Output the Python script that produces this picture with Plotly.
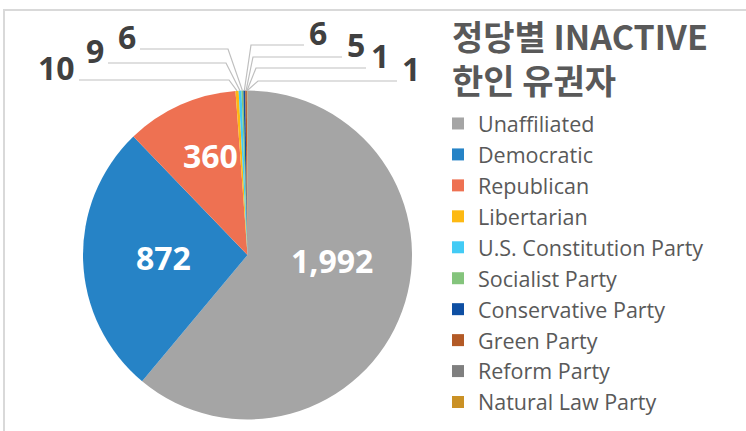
import math
import plotly.graph_objects as go

# ---- data ----
parties = ["Unaffiliated", "Democratic", "Republican", "Libertarian",
           "U.S. Constitution Party", "Socialist Party", "Conservative Party",
           "Green Party", "Reform Party", "Natural Law Party"]
voters = [1992, 872, 360, 10, 9, 6, 6, 5, 1, 1]
colors = ["#A5A5A5", "#2683C6", "#EE7152", "#FDB913", "#43CBF5",
          "#84C47C", "#0E4FA3", "#B35A26", "#7F7F7F", "#CA9125"]
title_lines = ["정당별 INACTIVE", "한인 유권자"]

W, H = 746, 431
CX, CY, R = 247.5, 255.0, 164.5   # pie centre / radius in px (layout)

def px(x):
    return x / W

def py(y):
    return 1 - y / H

fig = go.Figure(go.Pie(
    labels=parties, values=voters, sort=False, direction="clockwise",
    rotation=0, marker=dict(colors=colors, line=dict(width=0)),
    textinfo="none", hoverinfo="label+value",
    domain=dict(x=[px(CX - R), px(CX + R)], y=[py(CY + R), py(CY - R)]),
))

total = sum(voters)
cum = 0
mids = []
for v in voters:
    mids.append((cum + v / 2) / total * 2 * math.pi)
    cum += v

shapes = []
annotations = []

# ---- inside labels for the three big slices (label placement, px) ----
inside_pos = {0: (332, 260), 1: (163, 257), 2: (210, 155)}
for i, (lx, ly) in inside_pos.items():
    annotations.append(dict(
        xref="paper", yref="paper", x=px(lx), y=py(ly), xanchor="center",
        yanchor="middle", text=f"{voters[i]:,}", showarrow=False,
        font=dict(family="Open Sans", size=32, color="white", weight="bold")))

# ---- leader-line labels for small slices ----
# layout for outside labels: (elbow_x, line_y, line_outer_x, side)
small_layout = {
    3: (229, 80, 79, "left"),
    4: (226, 63, 108, "left"),
    5: (228, 49, 140, "left"),
    6: (251, 45, 304, "right"),
    7: (253, 57, 342, "right"),
    8: (256, 68, 366, "right"),
    9: (258, 81, 397, "right"),
}
for i, (ex, ly, ox, side) in small_layout.items():
    a = mids[i]
    sx = CX + R * math.sin(a)
    sy = CY - R * math.cos(a)
    path = f"M {px(sx)},{py(sy)} L {px(ex)},{py(ly)} L {px(ox)},{py(ly)}"
    shapes.append(dict(type="path", xref="paper", yref="paper", path=path,
                       line=dict(color="#BFBFBF", width=1.2)))
    annotations.append(dict(
        xref="paper", yref="paper", x=px(ox + (-2 if side == "left" else 3)),
        y=py(ly + 11), xanchor="right" if side == "left" else "left",
        yanchor="bottom", text=f"{voters[i]:,}", showarrow=False,
        font=dict(family="Open Sans", size=32, color="#404040", weight="bold")))

# title (two lines in one annotation)
annotations.append(dict(
    xref="paper", yref="paper", x=px(450), y=py(57), xanchor="left",
    yanchor="middle", align="left",
    text="<br>".join(f"<b>{t}</b>" for t in title_lines), showarrow=False,
    font=dict(family="Noto Sans CJK KR", size=34, color="#595959")))

# chart frame
shapes.append(dict(type="path", xref="paper", yref="paper",
                   path=f"M {px(4)},0 L {px(4)},{py(10)} L 1,{py(10)}",
                   line=dict(color="#D9D9D9", width=2)))

fig.update_layout(
    width=W, height=H, margin=dict(l=0, r=0, t=0, b=0, autoexpand=False),
    paper_bgcolor="white", plot_bgcolor="white",
    showlegend=True,
    legend=dict(x=px(438), y=py(103), xanchor="left", yanchor="top",
                font=dict(family="Open Sans", size=21.5, color="#595959"),
                traceorder="normal", bgcolor="rgba(0,0,0,0)"),
    shapes=shapes, annotations=annotations,
)

fig.write_html("out.html", config={"displayModeBar": False},
               post_script="document.body.style.margin='0px';")
